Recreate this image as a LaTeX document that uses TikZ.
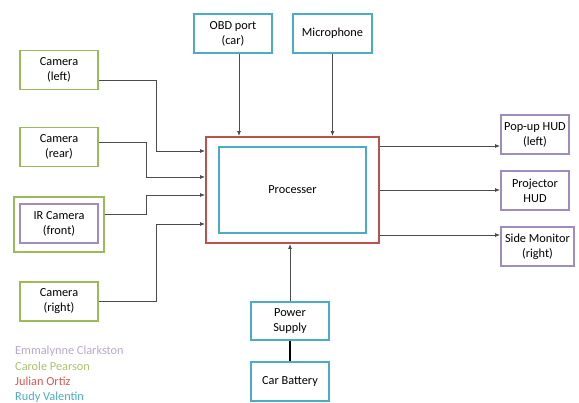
\documentclass[tikz,border=0pt]{standalone}
\usepackage{fontspec}
\setmainfont{Carlito}
\usetikzlibrary{arrows.meta}
\definecolor{boxgreen}{HTML}{9BBB59}
\definecolor{boxblue}{HTML}{4BACC6}
\definecolor{boxred}{HTML}{C0504D}
\definecolor{boxpurple}{HTML}{A08CC0}
\definecolor{namepurple}{HTML}{B8A8CC}
\definecolor{namegreen}{HTML}{A9C46A}
\definecolor{namered}{HTML}{D9574F}
\begin{document}
\begin{tikzpicture}[x=1pt, y=-1pt, >={Latex[length=5pt,width=4pt]},
  every node/.style={font=\fontsize{12.3}{15}\selectfont},
  unit/.style={draw, rectangle, align=center, line width=1.9pt, fill=white, inner sep=0pt, minimum width=78pt, minimum height=39pt},
  conn/.style={draw=black!70, line width=0.8pt},
  legendtext/.style={anchor=west, inner sep=0pt}]
\useasboundingbox (0,0) rectangle (579,403);

% inputs (left)
\node[unit, draw=boxgreen] (camL) at (59,70) {Camera\\(left)};
\node[unit, draw=boxgreen] (camB) at (59,147) {Camera\\(rear)};
\node[unit, draw=boxgreen, minimum width=90pt, minimum height=55pt] (irOut) at (59,224.5) {};
\node[unit, draw=boxpurple] (ir) at (59,223.5) {IR Camera\\(front)};
\node[unit, draw=boxgreen] (camR) at (59,301.5) {Camera\\(right)};

% inputs (top)
\node[unit, draw=boxblue] (obd) at (233,33.5) {OBD port\\(car)};
\node[unit, draw=boxblue, minimum width=79pt] (mic) at (332.5,33.5) {Microphone};

% processer
\node[unit, draw=boxred, minimum width=173pt, minimum height=106pt] (proc) at (292.5,190) {};
\node[unit, draw=boxblue, minimum width=147pt, minimum height=86pt] (core) at (292.5,190) {Processer};

% outputs (right)
\node[unit, draw=boxpurple, minimum width=68pt] (popup) at (535,134.5) {Pop-up HUD\\(left)};
\node[unit, draw=boxpurple, minimum width=68pt] (proj) at (535,190.5) {Projector\\HUD};
\node[unit, draw=boxpurple, minimum width=73pt] (side) at (537.5,246.5) {Side Monitor\\(right)};

% power
\node[unit, draw=boxblue, minimum height=38pt] (power) at (290,321) {Power\\Supply};
\node[unit, draw=boxblue] (battery) at (290,381.5) {Car Battery};

% legend
\node[legendtext, text=namepurple] (n1) at (15,351) {Emmalynne Clarkston};
\node[legendtext, text=namegreen] (n2) at (15,366) {Carole Pearson};
\node[legendtext, text=namered] (n3) at (15,381.5) {Julian Ortiz};
\node[legendtext, text=boxblue] (n4) at (15,397) {Rudy Valentin};

\draw[conn, ->] ([yshift=-10pt]camL.east) -- ++(57,0) |- ([yshift=39pt]proc.west);
\draw[conn, ->] ([yshift=4.5pt]camB.east) -- ++(47,0) |- ([yshift=13pt]proc.west);
\draw[conn, ->] ([yshift=10.5pt]irOut.east) -- ++(41,0) |- ([yshift=-5pt]proc.west);
\draw[conn, ->] (camR.east) -- ++(57,0) |- ([yshift=-34pt]proc.west);

\draw[conn, ->] ([xshift=6pt]obd.south) -- ([xshift=6pt]obd.south |- proc.north);
\draw[conn, ->] (mic.south) -- (mic.south |- proc.north);

\draw[conn, ->] ([yshift=44pt]proc.east) -- ([yshift=44pt]proc.east -| popup.west);
\draw[conn, ->] (proc.east) -- (proc.east -| proj.west);
\draw[conn, ->] ([yshift=-45pt]proc.east) -- ([yshift=-45pt]proc.east -| side.west);

\draw[conn, ->] (power.north) -- (power.north |- proc.south);
\draw[line width=2.2pt] (battery.north) -- (power.south);
\end{tikzpicture}
\end{document}
